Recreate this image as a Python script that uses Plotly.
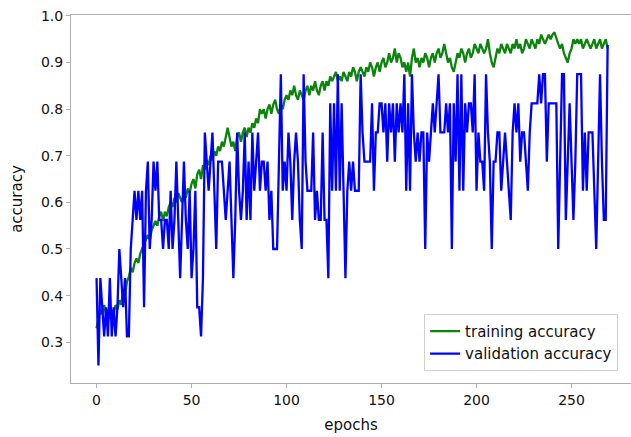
import plotly.graph_objects as go

epochs = list(range(270))

# validation accuracy in sixteenths (value = k / 16)
val_sixteenths = [
    7, 4, 7, 6, 5, 6, 5, 7, 5, 6,
    5, 6, 8, 7, 6, 7, 5, 5, 8, 9,
    10, 9, 10, 9, 10, 6, 10, 11, 8, 9,
    11, 10, 11, 9, 9, 8, 9, 9, 8, 10,
    8, 9, 11, 9, 7, 9, 11, 9, 8, 10,
    7, 8, 10, 6, 6, 5, 7, 12, 11, 10,
    11, 12, 10, 8, 11, 11, 11, 10, 9, 10,
    11, 9, 7, 9, 12, 10, 9, 10, 12, 9,
    11, 9, 12, 10, 11, 12, 10, 11, 11, 10,
    11, 9, 10, 8, 8, 8, 11, 14, 10, 11,
    10, 12, 11, 9, 11, 12, 11, 9, 8, 14,
    11, 10, 10, 10, 12, 9, 10, 9, 9, 12,
    9, 9, 7, 13, 10, 13, 10, 14, 10, 13,
    10, 7, 10, 11, 10, 11, 10, 10, 10, 14,
    12, 11, 11, 11, 11, 13, 10, 12, 12, 13,
    13, 12, 13, 11, 13, 12, 13, 11, 13, 12,
    13, 12, 14, 10, 13, 10, 14, 12, 11, 12,
    11, 12, 12, 8, 12, 11, 12, 13, 12, 13,
    14, 12, 12, 12, 13, 12, 13, 8, 13, 11,
    14, 10, 14, 10, 13, 12, 13, 13, 12, 14,
    10, 12, 11, 11, 10, 14, 12, 11, 8, 11,
    11, 12, 12, 10, 11, 12, 11, 10, 9, 12,
    13, 12, 13, 11, 12, 12, 11, 10, 12, 13,
    13, 13, 13, 14, 13, 14, 14, 11, 13, 13,
    13, 13, 13, 8, 11, 14, 14, 9, 11, 13,
    11, 9, 11, 14, 14, 14, 10, 12, 10, 12,
    12, 12, 10, 8, 11, 14, 11, 9, 9, 15,
]
validation_accuracy = [k / 16 for k in val_sixteenths]

training_accuracy = [
    0.33, 0.35, 0.37, 0.36, 0.38, 0.36, 0.37, 0.35, 0.37, 0.36,
    0.38, 0.37, 0.39, 0.38, 0.41, 0.40, 0.43, 0.44, 0.46, 0.45,
    0.47, 0.48, 0.47, 0.49, 0.50, 0.51, 0.52, 0.53, 0.52, 0.54,
    0.55, 0.56, 0.55, 0.57, 0.58, 0.56, 0.58, 0.57, 0.59, 0.60,
    0.59, 0.61, 0.60, 0.62, 0.61, 0.60, 0.62, 0.61, 0.63, 0.62,
    0.64, 0.65, 0.63, 0.66, 0.67, 0.65, 0.68, 0.67, 0.69, 0.68,
    0.70, 0.69, 0.71, 0.70, 0.72, 0.71, 0.73, 0.72, 0.74, 0.76,
    0.74, 0.72, 0.73, 0.71, 0.74, 0.75, 0.73, 0.75, 0.76, 0.74,
    0.76, 0.75, 0.77, 0.76, 0.78, 0.77, 0.80, 0.79, 0.80, 0.78,
    0.80, 0.81, 0.79, 0.81, 0.82, 0.80, 0.79, 0.81, 0.80, 0.82,
    0.83, 0.82, 0.84, 0.83, 0.85, 0.83, 0.82, 0.84, 0.83, 0.82,
    0.84, 0.85, 0.83, 0.85, 0.84, 0.86, 0.84, 0.83, 0.85, 0.86,
    0.84, 0.86, 0.85, 0.87, 0.86, 0.87, 0.88, 0.86, 0.87, 0.86,
    0.88, 0.87, 0.86, 0.88, 0.87, 0.89, 0.88, 0.86, 0.88, 0.89,
    0.88, 0.87, 0.89, 0.88, 0.90, 0.89, 0.87, 0.89, 0.90, 0.88,
    0.90, 0.91, 0.89, 0.90, 0.92, 0.90, 0.91, 0.93, 0.90, 0.92,
    0.91, 0.89, 0.90, 0.88, 0.90, 0.87, 0.91, 0.93, 0.90, 0.91,
    0.89, 0.91, 0.90, 0.92, 0.91, 0.89, 0.91, 0.92, 0.90, 0.92,
    0.93, 0.91, 0.92, 0.94, 0.92, 0.90, 0.91, 0.89, 0.88, 0.90,
    0.92, 0.91, 0.93, 0.92, 0.90, 0.92, 0.93, 0.91, 0.92, 0.94,
    0.93, 0.92, 0.94, 0.93, 0.92, 0.93, 0.95, 0.92, 0.90, 0.89,
    0.91, 0.93, 0.92, 0.94, 0.93, 0.92, 0.94, 0.93, 0.92, 0.94,
    0.93, 0.95, 0.93, 0.94, 0.92, 0.93, 0.95, 0.94, 0.93, 0.95,
    0.94, 0.93, 0.95, 0.94, 0.96, 0.95, 0.94, 0.95, 0.96, 0.95,
    0.96, 0.965, 0.95, 0.94, 0.93, 0.94, 0.92, 0.91, 0.90, 0.92,
    0.93, 0.95, 0.94, 0.95, 0.94, 0.95, 0.93, 0.94, 0.95, 0.94,
    0.93, 0.94, 0.95, 0.93, 0.94, 0.95, 0.93, 0.94, 0.95, 0.93,
]

x_ticks = [0, 50, 100, 150, 200, 250]
y_ticks = [0.3, 0.4, 0.5, 0.6, 0.7, 0.8, 0.9, 1.0]
y_tick_labels = ["0.3", "0.4", "0.5", "0.6", "0.7", "0.8", "0.9", "1.0"]

fig = go.Figure()
fig.add_trace(go.Scatter(x=epochs, y=training_accuracy, mode="lines",
                         name="training accuracy",
                         line=dict(color="#0a840a", width=2.3)))
fig.add_trace(go.Scatter(x=epochs, y=validation_accuracy, mode="lines",
                         name="validation accuracy",
                         line=dict(color="#0000ff", width=2.3)))

font = "DejaVu Sans, sans-serif"
fig.update_layout(
    width=631, height=437,
    margin=dict(l=71, r=0, t=15, b=54),
    paper_bgcolor="white", plot_bgcolor="white",
    font=dict(family=font, size=14, color="#111111"),
    showlegend=True,
    legend=dict(x=0.977, y=0.033, xanchor="right", yanchor="bottom",
                bgcolor="rgba(255,255,255,0.9)", bordercolor="#d0d0d0",
                borderwidth=1, font=dict(size=15, family=font),
                itemwidth=30),
    xaxis=dict(range=[-13.45, 281.3], tickvals=x_ticks,
               showgrid=False, zeroline=False,
               showline=True, mirror=True, linecolor="#b0b0b0", linewidth=1,
               ticks="outside", ticklen=4, tickcolor="#b0b0b0",
               title=dict(text="epochs", standoff=12, font=dict(size=15))),
    yaxis=dict(range=[0.2125, 1.002], tickvals=y_ticks, ticktext=y_tick_labels,
               showgrid=False, zeroline=False,
               showline=True, mirror=True, linecolor="#b0b0b0", linewidth=1,
               ticks="outside", ticklen=4, tickcolor="#b0b0b0",
               title=dict(text="accuracy", standoff=14, font=dict(size=15))),
)

fig.write_html("out.html")
